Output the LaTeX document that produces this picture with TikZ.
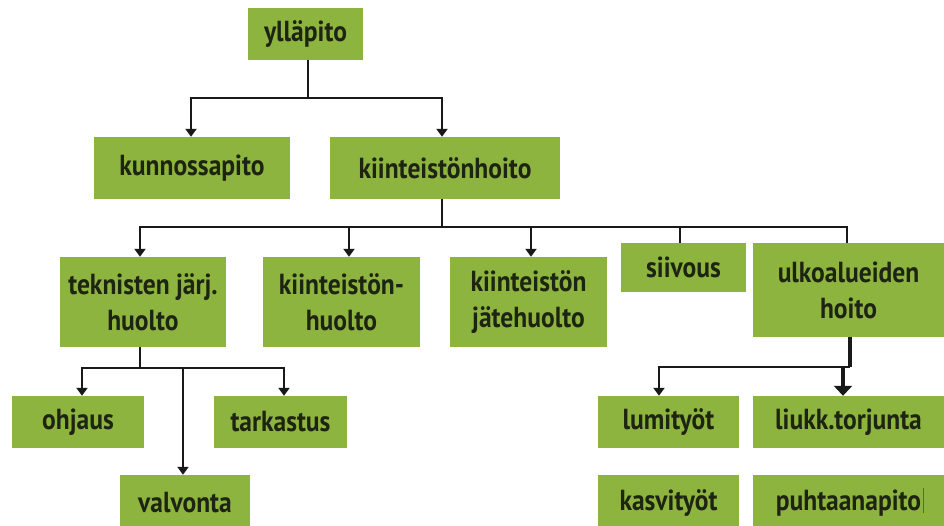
\documentclass[tikz,border=0pt]{standalone}
\usepackage{fontspec}
\setmainfont{PT Sans}[FakeStretch=0.88]
\usetikzlibrary{arrows.meta,calc}
\definecolor{boxgreen}{HTML}{8DB43E}
\definecolor{txt}{HTML}{1E2412}
\tikzset{
  box/.style={fill=boxgreen, draw=none, inner sep=0pt, align=center, text=txt,
    font=\fontsize{29}{36}\selectfont\bfseries},
  conn/.style={line width=2.8pt, black!90},
  arr/.style={conn, -{Triangle[width=11pt,length=8pt]}},
  thickarr/.style={line width=4pt, black!90, -{Triangle[width=18pt,length=10pt]}},
}
\begin{document}
\begin{tikzpicture}[x=1pt,y=-1pt]
\useasboundingbox (0,0) rectangle (944,525);
\clip (0,0) rectangle (944,525);
\fill[white] (0,0) rectangle (944,525);
% level 0
\node[box, minimum width=115pt, minimum height=52pt] (yl) at (305.5,34) {ylläpito};
% level 1
\node[box, minimum width=196pt, minimum height=62pt] (kun) at (192,168) {kunnossapito};
\node[box, minimum width=230pt, minimum height=62pt] (kh) at (445,168) {kiinteistönhoito};
% level 2
\node[box, minimum width=166pt, minimum height=90pt] (tek) at (143,302) {teknisten järj.\\huolto};
\node[box, minimum width=157pt, minimum height=90pt] (kh2) at (341.5,302) {kiinteistön-\\huolto};
\node[box, minimum width=157pt, minimum height=90pt] (jat) at (528.5,302) {kiinteistön\\jätehuolto};
\node[box, minimum width=125pt, minimum height=49pt] (sii) at (683.5,267.5) {siivous};
\node[box, minimum width=191pt, minimum height=94pt] (ulk) at (848.5,290) {ulkoalueiden\\hoito};
% level 3 left
\node[box, minimum width=132pt, minimum height=52pt] (ohj) at (78,422) {ohjaus};
\node[box, minimum width=133pt, minimum height=52pt] (tar) at (280.5,422) {tarkastus};
\node[box, minimum width=130pt, minimum height=56pt] (val) at (185,503) {valvonta};
% level 3 right
\node[box, minimum width=141pt, minimum height=52pt] (lum) at (668.5,422) {lumityöt};
\node[box, minimum width=191pt, minimum height=52pt] (liu) at (848.5,422) {liukk.torjunta};
\node[box, minimum width=141pt, minimum height=56pt] (kas) at (668.5,503) {kasvityöt};
\node[box, minimum width=191pt, minimum height=56pt] (puh) at (848.5,503) {puhtaanapito};
\coordinate (cur) at (923,488);
\draw[blue!70, line width=0.8pt] (cur) -- ++(0,25);
% connectors level 0 -> 1
\coordinate (j0) at ([xshift=2.5pt]yl.south |- 0,98);
\draw[conn] ([xshift=2.5pt]yl.south) -- (j0);
\draw[arr] (j0) -| ([xshift=-1pt]kun.north);
\draw[arr] (j0) -| ([xshift=-3pt]kh.north);
% level 1 -> 2
\coordinate (j1) at ([xshift=-3pt]kh.south |- 0,227);
\draw[conn] ([xshift=-3pt]kh.south) -- (j1);
\draw[arr] (j1) -| ([xshift=-3pt]tek.north);
\draw[arr] (j1) -| ([xshift=7.5pt]kh2.north);
\draw[arr] (j1) -| ([xshift=2.5pt]jat.north);
\draw[conn] (j1) -| ([xshift=-3.5pt]sii.north);
\draw[conn] (j1) -| ([xshift=-1.5pt]ulk.north);
% teknisten -> children
\coordinate (j2) at ([xshift=-3pt]tek.south |- 0,368);
\draw[conn] ([xshift=-3pt]tek.south) -- (j2);
\draw[arr] (j2) -| ([xshift=4pt]ohj.north);
\draw[arr] (j2) -| ([xshift=3.5pt]tar.north);
\draw[arr] ([xshift=-2pt]val.north |- j2) -- ([xshift=-2pt]val.north);
% ulkoalueiden -> children
\coordinate (j3) at ([xshift=1.5pt]ulk.south |- 0,367);
\draw[line width=4pt, black!90] ([xshift=1.5pt]ulk.south) -- (j3);
\draw[arr] (j3) -| ([xshift=-9.5pt]lum.north);
\draw[thickarr] ([xshift=-5.5pt]liu.north |- j3) -- ([xshift=-5.5pt]liu.north);
\end{tikzpicture}
\end{document}
